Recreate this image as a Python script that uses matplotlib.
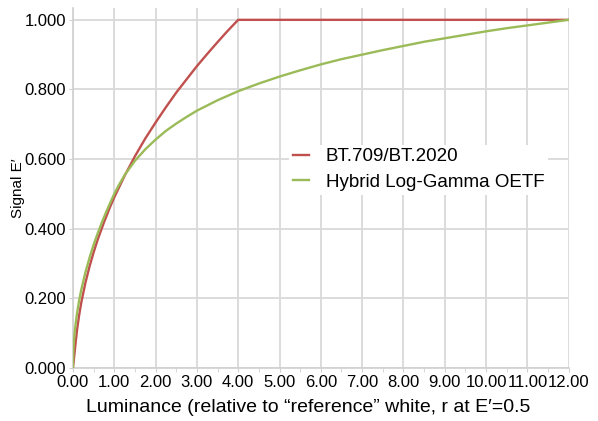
import matplotlib
matplotlib.use("Agg")
import matplotlib.pyplot as plt
from matplotlib.ticker import MultipleLocator, FormatStrFormatter

plt.rcParams['font.family'] = ['Liberation Sans', 'DejaVu Sans']

# values
bt_x = [0.0, 0.01, 0.02, 0.04, 0.072, 0.1, 0.15, 0.2, 0.3, 0.4, 0.5, 0.6, 0.75, 0.9, 1.0, 1.25, 1.5, 1.75,
        2.0, 2.25, 2.5, 2.75, 3.0, 3.25, 3.5, 3.75, 4.0, 6.0, 8.0, 10.0, 12.0]
bt_y = [0.0, 0.011, 0.023, 0.045, 0.081, 0.110, 0.152, 0.187, 0.244, 0.291, 0.332, 0.369, 0.418, 0.463, 0.490,
        0.552, 0.608, 0.659, 0.705, 0.749, 0.791, 0.829, 0.867, 0.902, 0.936, 0.969, 1.0, 1.0, 1.0, 1.0, 1.0]

hlg_x = [0.0, 0.001, 0.005, 0.01, 0.02, 0.04, 0.07, 0.1, 0.15, 0.2, 0.3, 0.4, 0.5, 0.6, 0.7, 0.8, 0.9, 1.0,
         1.1, 1.25, 1.5, 1.75, 2.0, 2.25, 2.5, 2.75, 3.0, 3.25, 3.5, 3.75, 4.0, 4.5, 5.0, 5.5, 6.0, 6.5, 7.0,
         7.5, 8.0, 8.5, 9.0, 9.5, 10.0, 10.5, 11.0, 11.5, 12.0]
hlg_y = [0.0, 0.016, 0.035, 0.050, 0.071, 0.100, 0.132, 0.158, 0.194, 0.224, 0.274, 0.316, 0.354, 0.387, 0.418,
         0.447, 0.474, 0.500, 0.523, 0.554, 0.595, 0.628, 0.656, 0.681, 0.702, 0.721, 0.739, 0.754, 0.769, 0.782,
         0.795, 0.817, 0.837, 0.855, 0.872, 0.887, 0.900, 0.913, 0.925, 0.937, 0.947, 0.957, 0.967, 0.976, 0.984,
         0.992, 1.000]

labels = ["BT.709/BT.2020", "Hybrid Log\u2010Gamma OETF"]

fig = plt.figure(figsize=(5.98, 4.21), dpi=100)
ax = fig.add_axes([0.122, 0.126, 0.829, 0.855])

ax.plot(bt_x, bt_y, color="#c0504d", lw=1.7, label=labels[0], zorder=3)
ax.plot(hlg_x, hlg_y, color="#9bbb59", lw=1.7, label=labels[1], zorder=3)

ax.set_xlim(0, 12)
ax.set_ylim(0, 1.034)
ax.xaxis.set_major_locator(MultipleLocator(1))
ax.xaxis.set_minor_locator(MultipleLocator(0.5))
ax.yaxis.set_major_locator(MultipleLocator(0.2))
ax.xaxis.set_major_formatter(FormatStrFormatter("%.2f"))
ax.yaxis.set_major_formatter(FormatStrFormatter("%.3f"))

ax.grid(True, which="major", color="#d9d9d9", lw=1.3)
ax.set_axisbelow(True)
for s in ["top", "right"]:
    ax.spines[s].set_visible(False)
for s in ["left", "bottom"]:
    ax.spines[s].set_color("#d0d0d0")
    ax.spines[s].set_linewidth(1.2)

ax.tick_params(axis="both", which="major", labelsize=12, length=3, color="#d0d0d0", pad=2)
ax.tick_params(axis="x", which="minor", length=3, color="#d0d0d0")

ax.set_xlabel("Luminance (relative to \u201creference\u201d white, r at E\u2032=0.5", fontsize=14)
ax.xaxis.set_label_coords(0.475, -0.085)
ax.set_ylabel("Signal E\u2032", fontsize=11)
ax.yaxis.set_label_coords(-0.097, 0.5)

leg = ax.legend(loc="center left", bbox_to_anchor=(0.417, 0.551), frameon=True, fontsize=13.5,
                handlelength=0.85, borderpad=0.2, labelspacing=0.45, handletextpad=0.9)
leg.get_frame().set_edgecolor("none")
leg.get_frame().set_facecolor("white")
leg.get_frame().set_alpha(1)

fig.savefig("out.png", dpi=100)
